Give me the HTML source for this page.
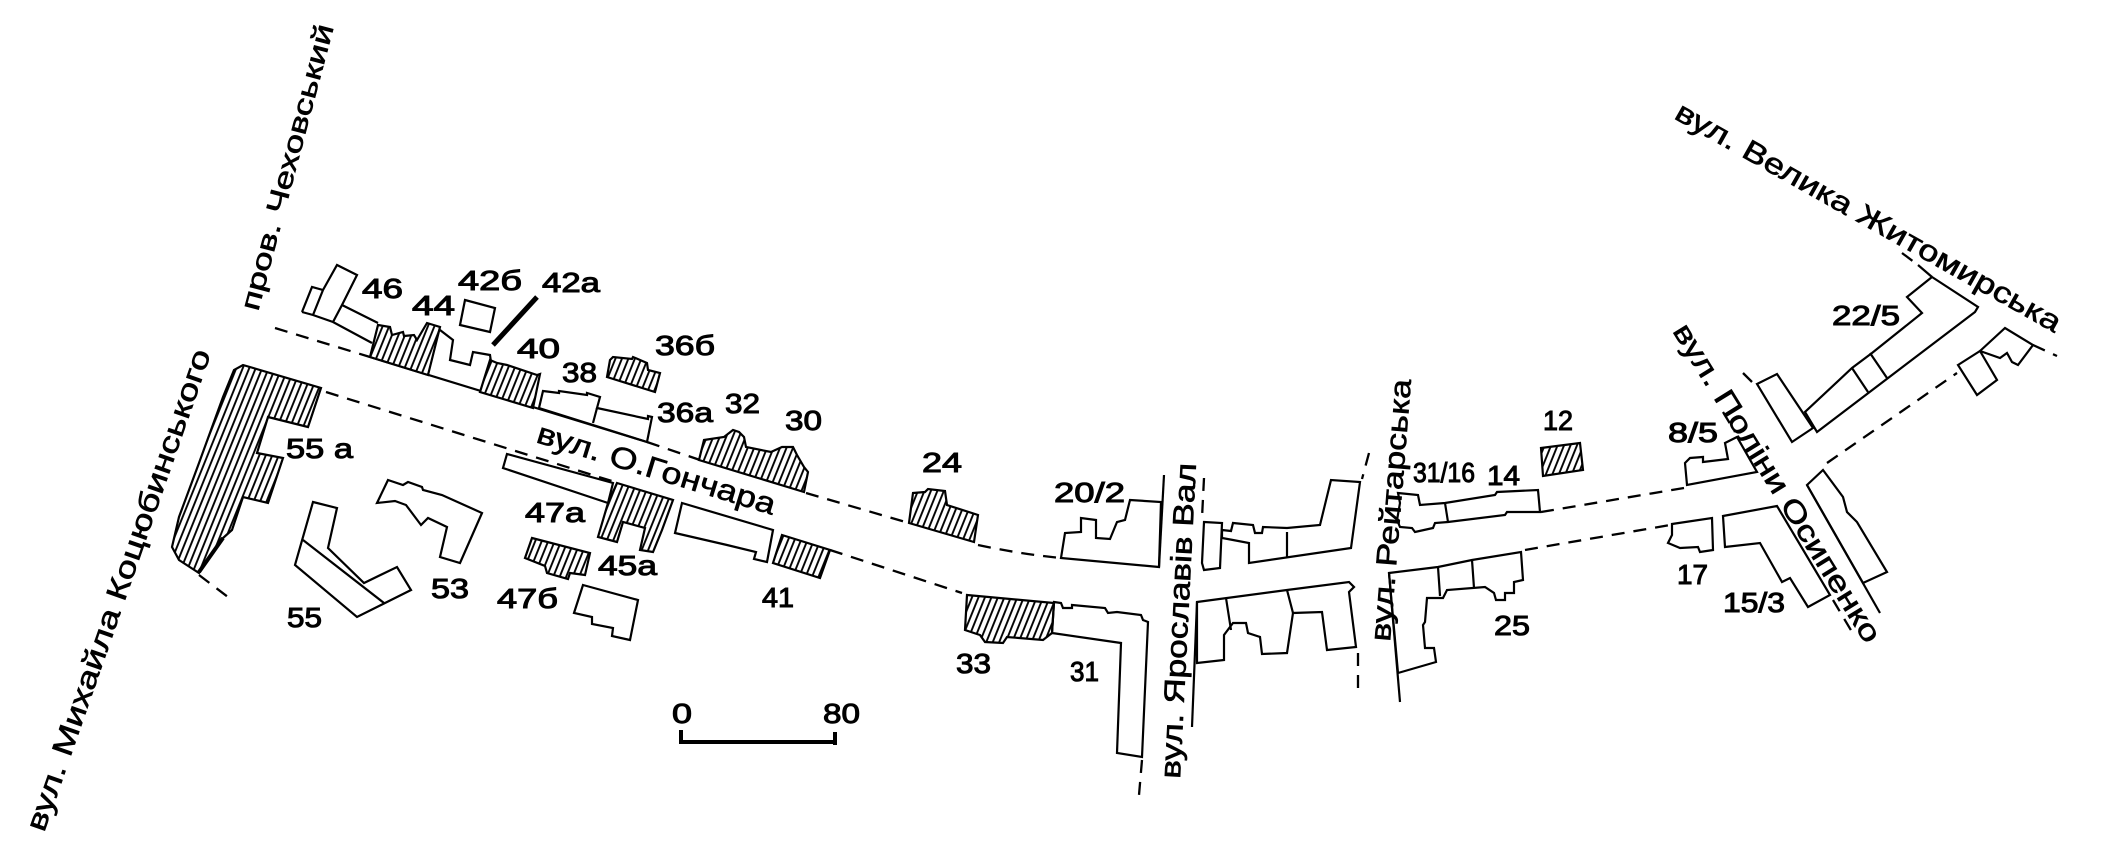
<!DOCTYPE html>
<html><head><meta charset="utf-8"><style>
html,body{margin:0;padding:0;background:#fff;}
svg{display:block;}
text{font-family:"Liberation Sans",sans-serif;fill:#000;}
.l{font-size:28px;stroke:#000;stroke-width:1;}
.s{font-size:29px;stroke:#000;stroke-width:0.6;}
.o{fill:none;stroke:#000;stroke-width:2.2;stroke-linejoin:miter;}
.h{fill:url(#hp);stroke:#000;stroke-width:2.2;}
.d{fill:none;stroke:#000;stroke-width:2.3;stroke-dasharray:13 9;}
.ln{fill:none;stroke:#000;stroke-width:2.2;}
</style></head><body>
<svg width="2108" height="856" viewBox="0 0 2108 856" xmlns="http://www.w3.org/2000/svg">
<defs>
<pattern id="hp" patternUnits="userSpaceOnUse" width="6" height="10" patternTransform="rotate(22)">
<rect x="0" y="0" width="6" height="10" fill="#fff"/>
<line x1="3" y1="-1" x2="3" y2="11" stroke="#000" stroke-width="1.9"/>
</pattern>
</defs>
<rect width="2108" height="856" fill="#fff"/>

<!-- street edge lines -->
<path class="d" d="M275,328 L370,357"/>
<path class="ln" d="M370,357 L647,442"/>
<path class="d" d="M647,442 L700,460"/>
<path class="d" d="M806,493 L909,523"/>
<path class="d" d="M978,545 Q1020,554 1061,558"/>
<path class="d" d="M326,392 L615,482"/>
<path class="d" d="M830,550 L962,593"/>
<path class="d" d="M199,575 L228,597"/>
<path class="ln" d="M1164,475 L1159,567"/>
<path class="d" d="M1142,760 L1139,795"/>
<path class="d" d="M1204,478 L1202,518"/>
<path class="ln" d="M1197,602 L1192,727"/>
<path class="d" d="M1369,453 L1362,479"/>
<path class="d" d="M1358,653 L1358,690"/>
<path class="ln" d="M1389,573 L1400,702"/>
<path class="d" d="M1541,512 L1684,488"/>
<path class="d" d="M1525,550 L1670,525"/>
<path class="d" d="M1723,412 L1735,432"/>
<path class="d" d="M1743,373 L1752,382"/>
<path class="d" d="M1833,600 L1855,637"/>
<path class="ln" d="M1807,485 L1880,613"/>
<path class="d" d="M1827,463 L1957,373"/>
<path class="d" d="M1902,253 L1918,265"/>
<path class="ln" d="M1918,265 L1932,277"/>
<path class="d" d="M2033,345 L2057,356"/>

<!-- hatched buildings -->
<polygon class="h" points="243,365 321,388 308,427 268,417 257,453 283,458 268,503 243,497 232,530 223,538 199,573 179,560 172,547 179,517 199,463 223,397 234,370"/>
<path d="M199,572 L223,538" stroke="#000" stroke-width="4"/>
<polygon class="h" points="378,325 390,327 392,335 403,332 404,336 414,335 417,340 427,323 440,327 428,375 370,357"/>
<polygon class="h" points="490,360 497,363 507,365 537,375 540,374 533,408 480,392"/>
<polygon class="h" points="610,360 613,357 632,359 633,357 647,363 648,370 660,373 655,392 607,377"/>
<polygon class="h" points="704,440 724,437 733,430 739,432 744,437 746,447 771,452 782,447 793,447 797,455 804,467 808,472 804,492 699,460"/>
<polygon class="h" points="913,493 925,492 928,489 945,491 947,505 978,515 974,542 909,523"/>
<polygon class="h" points="782,535 830,550 820,578 773,563"/>
<polygon class="h" points="617,483 673,500 662,530 653,552 640,550 645,528 623,522 617,542 598,537 608,503"/>
<polygon class="h" points="532,538 590,553 585,575 570,573 568,579 547,573 545,566 525,558"/>
<polygon class="h" points="967,595 1054,603 1052,633 1043,640 1007,637 1003,643 985,642 980,635 965,630"/>
<polygon class="h" points="1541,448 1580,443 1583,470 1543,476"/>

<!-- outlined buildings -->
<path class="o" d="M302,312 L312,287 L323,290 L337,265 L357,275 L342,305 L378,323 M302,312 L313,315 L333,322 L372,343 M342,305 L333,322 M323,290 L313,315"/>
<polyline class="o" points="440,330 453,340 450,360 470,365 473,352 490,355 491,362"/>
<polygon class="o" points="465,300 495,308 490,332 460,325"/>
<path d="M537,297 L493,345" stroke="#000" stroke-width="5"/>
<polygon class="o" points="539,408 543,391 559,393 559,391 587,395 587,393 600,397 597,408 648,419 648,416 652,417 647,442"/>
<path class="o" d="M597,408 L593,423"/>
<polygon class="o" points="507,454 613,483 608,503 503,468"/>
<polygon class="o" points="682,503 773,530 767,562 754,559 756,552 727,545 675,533"/>
<polygon class="o" points="388,480 403,485 408,482 422,487 423,490 442,495 482,513 460,563 440,557 447,527 428,518 421,525 406,505 395,501 377,503"/>
<polygon class="o" points="313,502 337,508 328,548 364,583 397,567 411,590 357,617 295,565"/>
<path class="o" d="M303,540 L384,603"/>
<polygon class="o" points="583,585 638,600 630,640 612,636 613,628 592,624 592,617 574,613"/>
<polygon class="o" points="1130,500 1161,502 1159,567 1061,558 1065,533 1081,532 1081,518 1096,520 1096,538 1110,539 1117,522 1125,520"/>
<polygon class="o" points="1054,602 1061,603 1063,608 1072,608 1072,605 1105,608 1108,613 1117,612 1141,615 1143,620 1148,622 1142,757 1117,753 1121,643 1052,633"/>
<polygon class="o" points="1204,522 1222,523 1220,568 1204,570 1202,563"/>
<polygon class="o" points="1222,530 1231,531 1233,523 1253,525 1255,533 1262,533 1263,527 1287,528 1320,525 1331,480 1360,482 1351,548 1249,563 1249,543 1233,540 1222,538"/>
<path class="o" d="M1287,532 L1287,557"/>
<polygon class="o" points="1197,602 1287,590 1349,582 1354,587 1349,592 1356,647 1327,650 1322,612 1293,613 1287,653 1262,654 1260,637 1248,633 1246,623 1233,623 1224,635 1224,660 1197,663"/>
<path class="o" d="M1226,598 L1231,630 M1287,590 L1293,613"/>
<polygon class="o" points="1398,493 1418,495 1420,505 1445,503 1495,495 1497,492 1538,490 1540,512 1507,512 1505,515 1448,522 1435,523 1433,528 1415,532 1412,528 1400,527 1397,520 1400,503"/>
<path class="o" d="M1445,503 L1448,522"/>
<polygon class="o" points="1389,573 1438,567 1472,560 1521,552 1523,580 1514,582 1514,593 1505,593 1505,600 1496,600 1494,593 1485,587 1447,590 1443,598 1427,598 1425,622 1423,625 1425,648 1434,648 1436,662 1398,673"/>
<path class="o" d="M1438,567 L1440,596 M1472,560 L1474,588"/>
<polygon class="o" points="1685,463 1690,458 1703,457 1703,462 1728,459 1725,443 1737,437 1757,472 1687,485"/>
<polygon class="o" points="1672,524 1712,518 1713,550 1700,552 1698,547 1680,548 1668,543 1672,535"/>
<polygon class="o" points="1723,516 1777,506 1830,595 1808,607 1790,578 1782,582 1760,543 1725,547"/>
<polygon class="o" points="1807,485 1823,470 1843,497 1847,512 1857,522 1887,572 1863,583"/>
<polygon class="o" points="1757,384 1777,374 1813,428 1792,442"/>
<polygon class="o" points="1932,277 1978,307 1975,312 1817,432 1805,412 1852,368 1872,353 1922,313 1907,297"/>
<path class="o" d="M1870,353 L1887,378 M1852,368 L1868,392"/>
<polygon class="o" points="1958,365 1980,351 1997,380 1977,395"/>
<polygon class="o" points="1980,351 2005,328 2033,345 2018,365 2012,362 2007,353 2000,358"/>

<!-- scale bar -->
<rect x="679" y="740" width="158" height="4" fill="#000"/>
<rect x="679" y="730" width="4" height="14" fill="#000"/>
<rect x="833" y="732" width="4" height="13" fill="#000"/>
<text class="l" x="672" y="723" textLength="20" lengthAdjust="spacingAndGlyphs">0</text>
<text class="l" x="823" y="723" textLength="37" lengthAdjust="spacingAndGlyphs">80</text>

<!-- building number labels -->
<text class="l" x="362" y="298" textLength="41" lengthAdjust="spacingAndGlyphs">46</text>
<text class="l" x="412" y="315" textLength="43" lengthAdjust="spacingAndGlyphs">44</text>
<text class="l" x="458" y="290" textLength="64" lengthAdjust="spacingAndGlyphs">42б</text>
<text class="l" x="542" y="292" textLength="58" lengthAdjust="spacingAndGlyphs">42а</text>
<text class="l" x="517" y="358" textLength="43" lengthAdjust="spacingAndGlyphs">40</text>
<text class="l" x="562" y="382" textLength="35" lengthAdjust="spacingAndGlyphs">38</text>
<text class="l" x="655" y="355" textLength="60" lengthAdjust="spacingAndGlyphs">36б</text>
<text class="l" x="657" y="422" textLength="56" lengthAdjust="spacingAndGlyphs">36а</text>
<text class="l" x="725" y="413" textLength="35" lengthAdjust="spacingAndGlyphs">32</text>
<text class="l" x="785" y="430" textLength="37" lengthAdjust="spacingAndGlyphs">30</text>
<text class="l" x="286" y="458" textLength="67" lengthAdjust="spacingAndGlyphs">55 а</text>
<text class="l" x="431" y="598" textLength="38" lengthAdjust="spacingAndGlyphs">53</text>
<text class="l" x="287" y="627" textLength="35" lengthAdjust="spacingAndGlyphs">55</text>
<text class="l" x="525" y="522" textLength="60" lengthAdjust="spacingAndGlyphs">47а</text>
<text class="l" x="598" y="575" textLength="59" lengthAdjust="spacingAndGlyphs">45а</text>
<text class="l" x="497" y="608" textLength="61" lengthAdjust="spacingAndGlyphs">47б</text>
<text class="l" x="762" y="607" textLength="32" lengthAdjust="spacingAndGlyphs">41</text>
<text class="l" x="922" y="472" textLength="40" lengthAdjust="spacingAndGlyphs">24</text>
<text class="l" x="1054" y="502" textLength="71" lengthAdjust="spacingAndGlyphs">20/2</text>
<text class="l" x="956" y="673" textLength="35" lengthAdjust="spacingAndGlyphs">33</text>
<text class="l" x="1070" y="681" textLength="29" lengthAdjust="spacingAndGlyphs">31</text>
<text class="l" x="1413" y="482" textLength="62" lengthAdjust="spacingAndGlyphs">31/16</text>
<text class="l" x="1487" y="485" textLength="33" lengthAdjust="spacingAndGlyphs">14</text>
<text class="l" x="1543" y="430" textLength="30" lengthAdjust="spacingAndGlyphs">12</text>
<text class="l" x="1494" y="635" textLength="36" lengthAdjust="spacingAndGlyphs">25</text>
<text class="l" x="1668" y="442" textLength="50" lengthAdjust="spacingAndGlyphs">8/5</text>
<text class="l" x="1677" y="584" textLength="31" lengthAdjust="spacingAndGlyphs">17</text>
<text class="l" x="1723" y="612" textLength="62" lengthAdjust="spacingAndGlyphs">15/3</text>
<text class="l" x="1832" y="325" textLength="68" lengthAdjust="spacingAndGlyphs">22/5</text>

<!-- street names -->
<text class="s" style="font-size:27px" transform="translate(258,312) rotate(-75.1)" textLength="295" lengthAdjust="spacingAndGlyphs">пров. Чеховський</text>
<text class="s" transform="translate(44,833) rotate(-70.8)" textLength="508" lengthAdjust="spacingAndGlyphs">вул. Михайла Коцюбинського</text>
<text class="s" style="font-size:30px" transform="translate(535,442) rotate(17.1)" textLength="248" lengthAdjust="spacingAndGlyphs">вул. О.Гончара</text>
<text class="s" transform="translate(1180,779) rotate(-87.1)" textLength="316" lengthAdjust="spacingAndGlyphs">вул. Ярославів Вал</text>
<text class="s" transform="translate(1390,642) rotate(-85.4)" textLength="263" lengthAdjust="spacingAndGlyphs">вул. Рейтарська</text>
<text class="s" transform="translate(1672,331) rotate(58.3)" textLength="369" lengthAdjust="spacingAndGlyphs">вул. Поліни Осипенко</text>
<text class="s" transform="translate(1673,118) rotate(29.4)" textLength="438" lengthAdjust="spacingAndGlyphs">вул. Велика Житомирська</text>
</svg>
</body></html>
